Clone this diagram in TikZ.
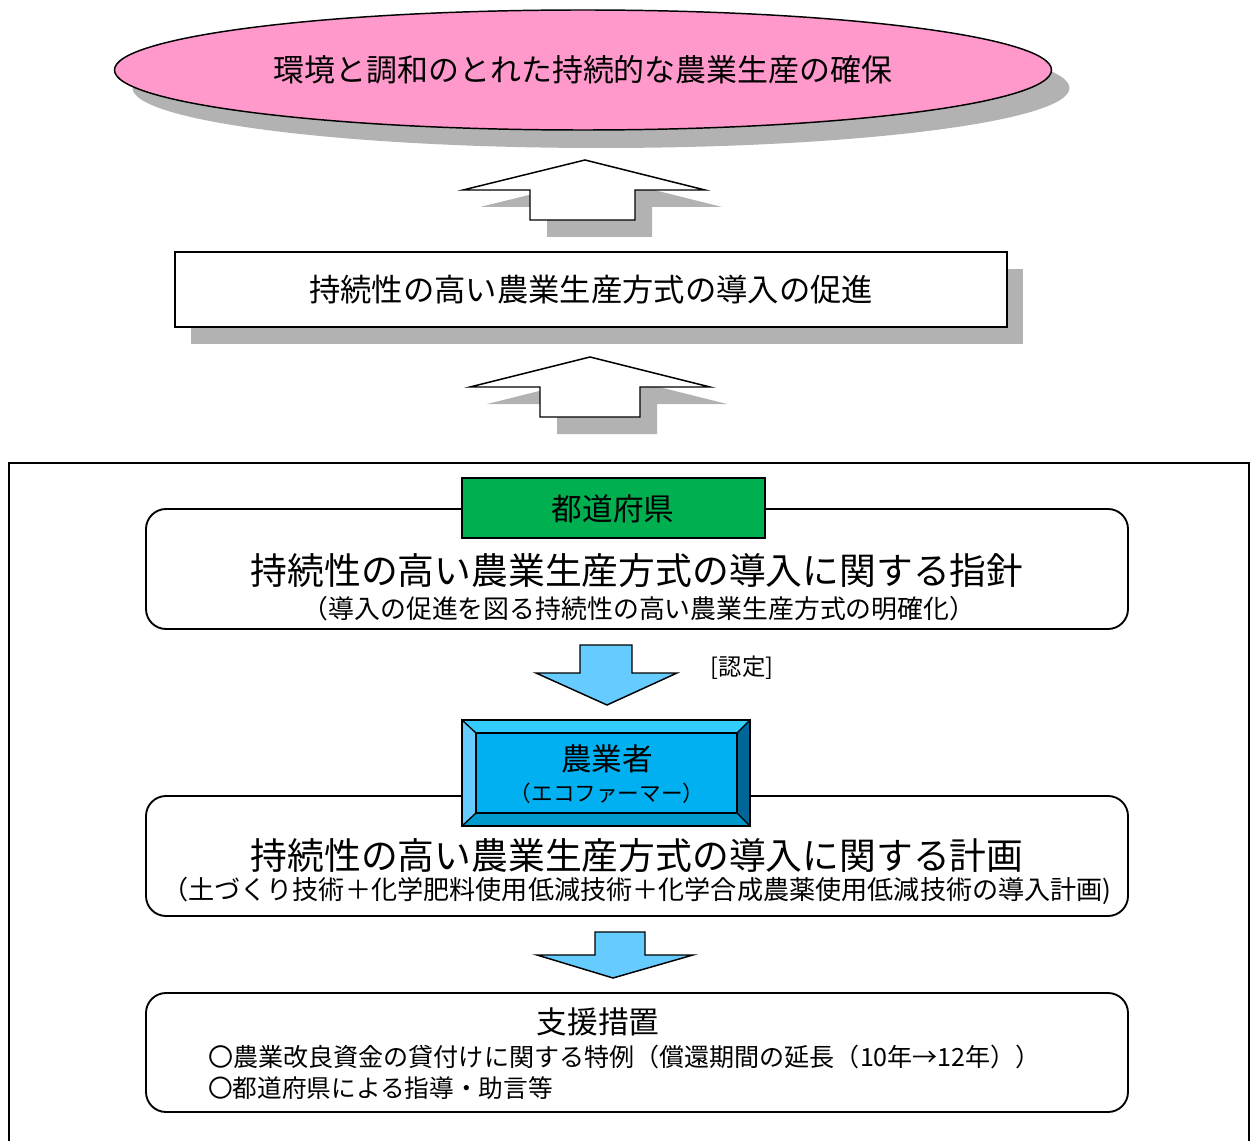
\documentclass[tikz,border=0pt]{standalone}
\usepackage{fontspec}
\setmainfont{Noto Sans CJK JP}
\definecolor{pinkfill}{HTML}{FF99CC}
\definecolor{shadowgray}{HTML}{B2B2B2}
\definecolor{greenfill}{HTML}{00B050}
\definecolor{arrowblue}{HTML}{66CCFF}
\definecolor{farmerfill}{HTML}{00B0F0}
\definecolor{bevtop}{HTML}{33CCFF}
\definecolor{bevleft}{HTML}{66CCFF}
\definecolor{bevbottom}{HTML}{0099CC}
\definecolor{bevright}{HTML}{006699}
\tikzset{
  outline/.style={draw=black, line width=1.3pt},
  shadowshape/.style={fill=shadowgray, draw=none},
  roundbox/.style={draw=black, line width=1.4pt, rounded corners=15pt},
  txt/.style={inner sep=0pt, anchor=center},
}
\newcommand{\fsz}[1]{\fontsize{#1}{#1}\selectfont}
\begin{document}
\begin{tikzpicture}[x=0.75pt,y=-0.75pt]
\useasboundingbox (0,0) rectangle (1257,1141);
% ---- top ellipse
\fill[shadowgray] (601,88) ellipse [x radius=468.5, y radius=60];
\draw[outline, line width=1.1pt, fill=pinkfill] (583,70) ellipse [x radius=468.5, y radius=60];
\node[txt] (goal) at (583,70) {\fsz{23.2pt}環境と調和のとれた持続的な農業生産の確保};
% ---- arrow 1 (white, up)
\fill[shadowshape] (602,177) -- (722,207) -- (652,207) -- (652,237) -- (547,237) -- (547,207) -- (480,207) -- cycle;
\draw[outline, line width=1.1pt, fill=white] (585,160) -- (705,190) -- (635,190) -- (635,220) -- (530,220) -- (530,190) -- (463,190) -- cycle;
% ---- promotion box
\fill[shadowshape] (191,269) rectangle (1023,344);
\draw[outline, line width=1.1pt, fill=white] (175,252) rectangle (1007,327);
\node[txt] (promo) at (591,290) {\fsz{23.5pt}持続性の高い農業生産方式の導入の促進};
% ---- arrow 2 (white, up)
\fill[shadowshape] (607,374) -- (727,404) -- (657,404) -- (657,434) -- (557,434) -- (557,404) -- (487,404) -- cycle;
\draw[outline, line width=1.1pt, fill=white] (590,357) -- (710,387) -- (640,387) -- (640,417) -- (540,417) -- (540,387) -- (470,387) -- cycle;
% ---- outer frame
\draw[line width=1.4pt] (9,1145) -- (9,463) -- (1249,463) -- (1249,1145);
% ---- box 1
\draw[roundbox, fill=white] (146,509) rectangle (1128,629);
\draw[outline, line width=1.2pt, fill=greenfill] (462,478) rectangle (765,538);
\node[txt] (pref) at (613,509) {\fsz{23pt}都道府県};
\node[txt] (guide) at (637,571) {\fsz{27.6pt}持続性の高い農業生産方式の導入に関する指針};
\node[txt] (guidesub) at (639,609) {\fsz{19.4pt}（導入の促進を図る持続性の高い農業生産方式の明確化）};
% ---- arrow 3 (blue, down)
\draw[outline, line width=1.1pt, fill=arrowblue] (580,645) -- (632,645) -- (632,673) -- (677,673) -- (607,705) -- (536,673) -- (580,673) -- cycle;
\node[txt] (nintei) at (742,668) {\fsz{17.5pt}[認定]};
% ---- box 2
\draw[roundbox, fill=white] (146,796) rectangle (1128,916);
% farmer bevel box
\fill[bevtop] (462,720) -- (750,720) -- (737,733) -- (476,733) -- cycle;
\fill[bevleft] (462,720) -- (476,733) -- (476,813) -- (462,826) -- cycle;
\fill[bevbottom] (462,826) -- (476,813) -- (737,813) -- (750,826) -- cycle;
\fill[bevright] (750,720) -- (737,733) -- (737,813) -- (750,826) -- cycle;
\fill[farmerfill] (476,733) rectangle (737,813);
\draw[line width=1pt] (462,720) -- (476,733) (750,720) -- (737,733) (462,826) -- (476,813) (750,826) -- (737,813);
\draw[line width=1pt] (476,733) rectangle (737,813);
\draw[line width=1.3pt] (462,720) rectangle (750,826);
\node[txt] (farmer) at (607,759) {\fsz{23pt}農業者};
\node[txt] (eco) at (607,793) {\fsz{16.2pt}（エコファーマー）};
\node[txt] (plan) at (637,856) {\fsz{27.6pt}持続性の高い農業生産方式の導入に関する計画};
\node[txt] (plansub) at (637,891) {\fsz{19.6pt}（土づくり技術＋化学肥料使用低減技術＋化学合成農薬使用低減技術の導入計画)};
% ---- arrow 4 (blue, down)
\draw[outline, line width=1.1pt, fill=arrowblue] (595,932) -- (645,932) -- (645,955) -- (693,955) -- (613,978) -- (537,955) -- (595,955) -- cycle;
% ---- box 3
\draw[roundbox, fill=white] (146,993) rectangle (1128,1112);
\node[txt] (support) at (598,1022) {\fsz{23pt}支援措置};
\node[txt, anchor=west] (item1) at (208,1057) {\fsz{18.8pt}〇農業改良資金の貸付けに関する特例（償還期間の延長（10年→12年））};
\node[txt, anchor=west] (item2) at (208,1088) {\fsz{18.5pt}〇都道府県による指導・助言等};
\end{tikzpicture}
\end{document}
